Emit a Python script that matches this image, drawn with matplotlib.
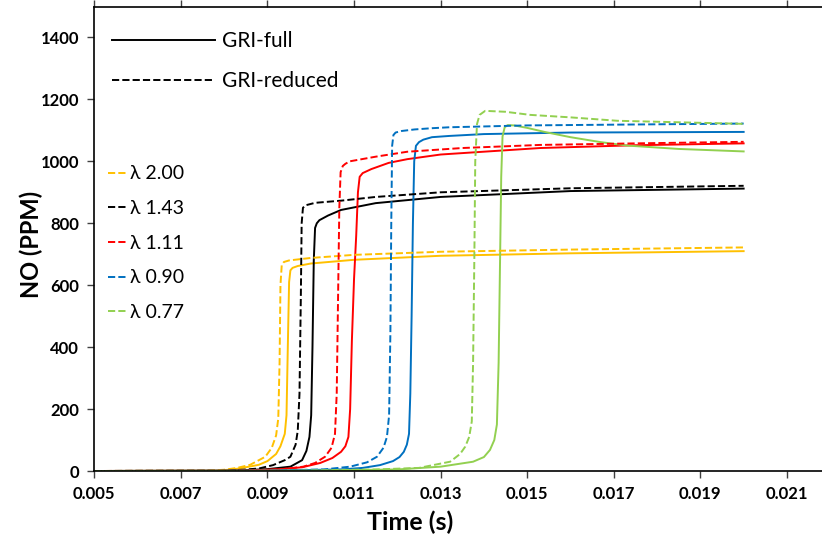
import matplotlib
matplotlib.use('Agg')
import matplotlib.pyplot as plt
from matplotlib.lines import Line2D

plt.rcParams['font.family'] = ['Lato', 'DejaVu Sans']

# NO profiles, GRI-full (solid) and GRI-reduced (dashed), per lambda
labels = ['λ 2.00', 'λ 1.43', 'λ 1.11', 'λ 0.90', 'λ 0.77']
colors = ['#FFC000', '#000000', '#FF0000', '#0070C0', '#92D050']

t_full_200 = [0.005, 0.0078, 0.0082, 0.0085, 0.0088, 0.0090, 0.0092, 0.0093, 0.0094, 0.00944, 0.00947, 0.0095, 0.00953, 0.00958, 0.0097, 0.0100, 0.0110, 0.0130, 0.0160, 0.0200]
no_full_200 = [0, 1, 5, 12, 20, 32, 55, 80, 120, 180, 400, 610, 648, 656, 662, 670, 682, 695, 703, 710]
t_red_200 = [0.005, 0.0076, 0.0080, 0.0083, 0.0086, 0.00895, 0.0091, 0.0092, 0.00925, 0.00928, 0.0093, 0.00933, 0.00938, 0.0095, 0.0100, 0.0110, 0.0130, 0.0160, 0.0200]
no_red_200 = [0, 1, 4, 10, 20, 46, 75, 115, 170, 350, 600, 665, 675, 680, 688, 698, 708, 715, 722]

t_full_143 = [0.005, 0.0080, 0.0085, 0.0090, 0.00953, 0.0098, 0.0099, 0.00997, 0.01001, 0.01004, 0.01007, 0.0101, 0.01014, 0.0102, 0.0104, 0.0107, 0.0115, 0.0130, 0.0160, 0.0200]
no_full_143 = [0, 1, 3, 6, 14, 35, 65, 110, 180, 400, 680, 785, 800, 810, 825, 843, 865, 885, 904, 912]
t_red_143 = [0.005, 0.0079, 0.0084, 0.0088, 0.00913, 0.0094, 0.00953, 0.00965, 0.0097, 0.00974, 0.00977, 0.00979, 0.00982, 0.00988, 0.0101, 0.0107, 0.0115, 0.0130, 0.0160, 0.0200]
no_red_143 = [0, 1, 4, 8, 19, 35, 46, 85, 130, 250, 550, 800, 850, 858, 866, 873, 885, 900, 913, 921]

t_full_111 = [0.005, 0.0085, 0.0093, 0.0098, 0.01022, 0.0105, 0.0107, 0.0108, 0.01087, 0.01091, 0.01095, 0.0110, 0.01105, 0.01109, 0.01113, 0.0112, 0.0114, 0.0118, 0.01223, 0.0130, 0.0153, 0.0175, 0.0200]
no_full_111 = [0, 1, 6, 12, 26, 42, 62, 80, 110, 200, 420, 620, 760, 900, 950, 962, 975, 995, 1007, 1022, 1043, 1052, 1058]
t_red_111 = [0.005, 0.0082, 0.0088, 0.0093, 0.00983, 0.0101, 0.01033, 0.01048, 0.01056, 0.0106, 0.01063, 0.01066, 0.01069, 0.01074, 0.0108, 0.0109, 0.0115, 0.01223, 0.0135, 0.0153, 0.0175, 0.0200]
no_red_111 = [0, 1, 3, 5, 14, 26, 46, 75, 120, 250, 550, 850, 965, 985, 992, 1000, 1015, 1031, 1043, 1053, 1058, 1063]

t_full_090 = [0.005, 0.0090, 0.01068, 0.0112, 0.0116, 0.0119, 0.01205, 0.01215, 0.01222, 0.01227, 0.0123, 0.01233, 0.01236, 0.01239, 0.01243, 0.0125, 0.0126, 0.0128, 0.0132, 0.0140, 0.0160, 0.0200]
no_full_090 = [0, 1, 5, 10, 19, 32, 45, 62, 85, 120, 250, 500, 800, 1000, 1050, 1062, 1070, 1078, 1082, 1088, 1093, 1095]
t_red_090 = [0.005, 0.0088, 0.0103, 0.01091, 0.0113, 0.01153, 0.01168, 0.01176, 0.01181, 0.01184, 0.01186, 0.01188, 0.01191, 0.01196, 0.0121, 0.0124, 0.0128, 0.0132, 0.0150, 0.0200]
no_red_090 = [0, 1, 5, 14, 28, 46, 75, 110, 180, 450, 800, 1050, 1085, 1093, 1098, 1103, 1107, 1110, 1116, 1122]

t_full_077 = [0.005, 0.0100, 0.0120, 0.0130, 0.01375, 0.0140, 0.01414, 0.01424, 0.0143, 0.01434, 0.01437, 0.0144, 0.01443, 0.01448, 0.01455, 0.0147, 0.0150, 0.0154, 0.0160, 0.0167, 0.0173, 0.0185, 0.0200]
no_full_077 = [0, 1, 5, 14, 30, 45, 68, 100, 150, 350, 650, 950, 1080, 1110, 1117, 1116, 1108, 1095, 1078, 1062, 1051, 1040, 1032]
t_red_077 = [0.005, 0.0095, 0.0115, 0.0125, 0.01322, 0.01345, 0.01357, 0.01366, 0.01372, 0.01375, 0.01378, 0.0138, 0.01384, 0.0139, 0.01403, 0.0145, 0.01507, 0.0160, 0.01708, 0.0200]
no_red_077 = [0, 1, 5, 10, 30, 55, 79, 110, 160, 350, 700, 1000, 1120, 1150, 1163, 1160, 1150, 1142, 1131, 1121]

full = [(t_full_200, no_full_200), (t_full_143, no_full_143), (t_full_111, no_full_111),
        (t_full_090, no_full_090), (t_full_077, no_full_077)]
reduced = [(t_red_200, no_red_200), (t_red_143, no_red_143), (t_red_111, no_red_111),
           (t_red_090, no_red_090), (t_red_077, no_red_077)]

x_ticks = [0.005, 0.007, 0.009, 0.011, 0.013, 0.015, 0.017, 0.019, 0.021]
y_ticks = [0, 200, 400, 600, 800, 1000, 1200, 1400]

fig = plt.figure(figsize=(8.22, 5.42), dpi=100)
ax = fig.add_axes([94.3 / 822, 71 / 542, 1 - 94.3 / 822, 1 - 77.5 / 542])

lw = 1.4
for (t, no), c in zip(full, colors):
    ax.plot(t, no, color=c, lw=lw, solid_joinstyle='round')
for (t, no), c in zip(reduced, colors):
    ax.plot(t, no, color=c, lw=lw, ls='--')

ax.set_xlim(0.005, 0.02181)
ax.set_ylim(0, 1500)
ax.set_xticks(x_ticks)
ax.set_xticklabels(['%.3f' % v for v in x_ticks])
ax.set_yticks(y_ticks)
ax.tick_params(axis='both', direction='out', length=5, width=1, color='#404040',
               labelsize=12, pad=6, top=True)
for lab in ax.get_xticklabels() + ax.get_yticklabels():
    lab.set_fontweight('bold')
ax.spines['right'].set_visible(False)
for s in ['left', 'bottom', 'top']:
    ax.spines[s].set_linewidth(1.2)

ax.set_xlabel('Time (s)', fontsize=18, fontweight='bold')
ax.xaxis.set_label_coords(0.434, -0.086)
ax.set_ylabel('NO (PPM)', fontsize=17, fontweight='bold')
ax.yaxis.set_label_coords(-0.070, 0.487)

# mechanism legend
mech = [Line2D([], [], color='black', lw=lw), Line2D([], [], color='black', lw=lw, ls='--')]
leg1 = ax.legend(mech, ['GRI-full', 'GRI-reduced'], loc='upper left', bbox_to_anchor=(0.025, 0.947),
                 frameon=False, fontsize=15, handlelength=4.9, handletextpad=0.38,
                 labelspacing=0.97, borderpad=0, borderaxespad=0)
ax.add_artist(leg1)

# lambda legend
lam = [Line2D([], [], color=c, lw=lw, ls='--') for c in colors]
ax.legend(lam, labels, loc='upper left', bbox_to_anchor=(0.019, 0.658),
          frameon=False, fontsize=14, handlelength=1.0, handletextpad=0.12,
          labelspacing=0.91, borderpad=0, borderaxespad=0)

fig.savefig('out.png', dpi=100)
